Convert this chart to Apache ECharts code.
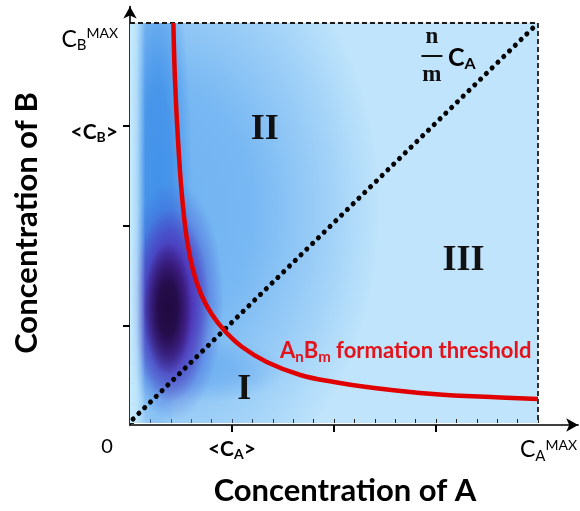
<!DOCTYPE html>
<html>
<head>
<meta charset="utf-8">
<script src="https://cdn.jsdelivr.net/npm/echarts@6.0.0/dist/echarts.min.js"></script>
<style>
html,body{margin:0;padding:0;background:#ffffff;}
#chart{width:580px;height:511px;}
</style>
</head>
<body>
<div id="chart"></div>
<script>
// ---------------- data ----------------
const xLabelValues = [0, 1, 4];
const xLabelTexts = ['0', '<C_{A}>', 'C_{A}^{MAX}'];
const xMajorTicks = [1, 2, 3];
const yLabelValues = [3, 4];
const yLabelTexts = ['<C_{B}>', 'C_{B}^{MAX}'];
const yMajorTicks = [1, 2, 3];
const xAxisTitle = 'Concentration of A';
const yAxisTitle = 'Concentration of B';

// AnBm formation threshold (red curve)
const thresholdX = [0.425, 0.441, 0.47, 0.507, 0.556, 0.62, 0.70, 0.80, 0.93, 1.10, 1.34, 1.67, 2.0, 2.32, 2.97, 3.63, 4.0];
const thresholdY = [4.0, 3.43, 2.84, 2.30, 1.85, 1.52, 1.28, 1.09, 0.92, 0.76, 0.61, 0.48, 0.41, 0.36, 0.29, 0.255, 0.24];
// stoichiometric line (n/m) C_A
const stoichX = [0.03, 4.0];
const stoichY = [0.04, 4.0];
// dashed upper / right limits
const boundaryX = [0, 4, 4];
const boundaryY = [4, 4, 0];

// density field: soft elliptical cells (centre, half-widths, intensity level)
const fieldCx = [0.39, 0.27, 0.74, 0.42, 0.40, 0.37];
const fieldCy = [2.14, 2.34, 0.53, 1.22, 1.17, 1.14];
const fieldRx = [2.06, 0.34, 0.78, 0.50, 0.38, 0.24];
const fieldRy = [2.99, 2.59, 0.32, 1.2, 0.97, 0.66];
const fieldLevel = [0, 1, 5, 2, 3, 4];
const edgeBand = [0, 0.15, 0, 4];

// annotations
const regionNames = ['I', 'II', 'III'];
const regionX = [1.12, 1.32, 3.27];
const regionY = [0.33, 2.93, 1.62];
const ratioNumerator = 'n';
const ratioDenominator = 'm';
const ratioTerm = 'C_{A}';
const ratioAt = [2.96, 3.67];
const thresholdText = 'A_{n}B_{m} formation threshold';
const thresholdTextAt = [1.47, 0.72];

// ---------------- styling ----------------
const FONT = 'Lato, "Open Sans", sans-serif';
const SERIF = '"Liberation Serif", "DejaVu Serif", serif';
const RED = '#e00000';
const fieldRGB = [[98, 170, 240], [58, 140, 232], [64, 78, 208], [82, 32, 170], [30, 8, 58], [90, 160, 238]];
const fieldAlpha = [0.85, 0.85, 0.9, 0.9, 0.95, 0.5];

function tok(size, weight, dy, color) {
  const c = color || '#000';
  return {
    fontFamily: FONT, fontSize: size, fontWeight: weight, color: c, fill: c,
    lineHeight: Math.round(size * 1.15), verticalAlign: 'middle',
    padding: dy >= 0 ? [2 * dy, 0, 0, 0] : [0, 0, -2 * dy, 0]
  };
}
const rich = {
  xbb: tok(21, 'bold', 0), xbsub: tok(14, 'bold', 5),
  xmb: tok(23, 'normal', 0), xmsub: tok(15, 'normal', 6), xmsup: tok(14, 'normal', -5),
  ybb: tok(21, 'bold', 6), ybsub: tok(14, 'bold', 11),
  ymb: tok(23, 'normal', 13), ymsub: tok(15, 'normal', 19), ymsup: tok(14, 'normal', 7),
  gap0: {width: 46}, gapM: {width: 22},
  rb: tok(25, 'bold', 0), rsub: tok(16, 'bold', 6),
  tb: tok(22, 'bold', 0, '#e3131b'), tsub: tok(15, 'bold', 6, '#e3131b')
};

function toRich(s, p) {
  const out = [];
  const re = /([_^])\{([^}]*)\}/g;
  let last = 0, m;
  while ((m = re.exec(s))) {
    if (m.index > last) out.push('{' + p + 'b|' + s.slice(last, m.index) + '}');
    out.push('{' + p + (m[1] === '_' ? 'sub' : 'sup') + '|' + m[2] + '}');
    last = re.lastIndex;
  }
  if (last < s.length) out.push('{' + p + 'b|' + s.slice(last) + '}');
  return out.join('');
}

const zip = (a, b) => a.map((v, i) => [v, b[i]]);

function renderBlob(params, api) {
  const c = api.coord([api.value(0), api.value(1)]);
  const s = api.size([api.value(2), api.value(3)]);
  const lvl = api.value(4);
  const rgb = fieldRGB[lvl], a = fieldAlpha[lvl];
  const col = al => 'rgba(' + rgb[0] + ',' + rgb[1] + ',' + rgb[2] + ',' + al + ')';
  return {
    type: 'circle', x: c[0], y: c[1], scaleX: 1, scaleY: s[1] / s[0],
    shape: {cx: 0, cy: 0, r: s[0]},
    style: {
      fill: new echarts.graphic.RadialGradient(0.5, 0.5, 0.5, [
        {offset: 0, color: col(a)},
        {offset: 0.4, color: col(a * 0.9)},
        {offset: 0.75, color: col(a * 0.4)},
        {offset: 1, color: col(0)}
      ])
    }
  };
}

function renderEdge(params, api) {
  const p0 = api.coord([api.value(0), api.value(3)]);
  const p1 = api.coord([api.value(1), api.value(2)]);
  return {
    type: 'rect',
    shape: {x: p0[0], y: p0[1], width: p1[0] - p0[0], height: p1[1] - p0[1]},
    style: {
      fill: new echarts.graphic.LinearGradient(0, 0, 1, 0, [
        {offset: 0, color: 'rgba(200,236,253,1)'},
        {offset: 0.45, color: 'rgba(200,236,253,0.75)'},
        {offset: 1, color: 'rgba(200,236,253,0)'}
      ])
    }
  };
}

const chart = echarts.init(document.getElementById('chart'), null, {renderer: 'canvas'});

const option = {
  animation: false,
  backgroundColor: '#ffffff',
  grid: [
    {left: 130, top: 23, width: 408, height: 402, show: true, backgroundColor: '#bfe4fb', borderWidth: 0},
    {left: 130, top: 2.9, width: 448.8, height: 422.1, show: false}
  ],
  xAxis: [
    {
      gridIndex: 0, type: 'value', min: 0, max: 4, interval: 0.2,
      axisLine: {show: false},
      axisTick: {show: true, inside: true, length: 4, lineStyle: {color: '#222', width: 1}},
      axisLabel: {show: false}, splitLine: {show: false},
      name: xAxisTitle, nameLocation: 'middle', nameGap: 52,
      nameTextStyle: {fontFamily: FONT, fontWeight: 'bold', fontSize: 31, color: '#000', padding: [0, 0, 0, 22]}
    },
    {
      gridIndex: 1, type: 'value', min: 0, max: 4.4, interval: 1,
      axisLine: {show: true, symbol: ['none', 'arrow'], symbolSize: [10, 12], lineStyle: {color: '#000', width: 1.6}},
      axisTick: {show: true, customValues: xMajorTicks, length: 7, lineStyle: {color: '#000', width: 2}},
      axisLabel: {
        show: true, customValues: xLabelValues, margin: 12,
        fontFamily: FONT, fontSize: 20, color: '#000',
        formatter: v => {
          const t = xLabelTexts[xLabelValues.indexOf(v)];
          if (v === 0) return t + '{gap0| }';
          if (v === 4) return '{gapM| }' + toRich(t, 'xm');
          return toRich(t, 'xb');
        },
        rich: rich
      },
      splitLine: {show: false}
    }
  ],
  yAxis: [
    {
      gridIndex: 0, type: 'value', min: 0, max: 4, interval: 0.2,
      axisLine: {show: false},
      axisTick: {show: true, inside: true, length: 4, lineStyle: {color: '#222', width: 1}},
      axisLabel: {show: false}, splitLine: {show: false},
      name: yAxisTitle, nameLocation: 'middle', nameGap: 88, nameRotate: 90,
      nameTextStyle: {fontFamily: FONT, fontWeight: 'bold', fontSize: 31, color: '#000'}
    },
    {
      gridIndex: 1, type: 'value', min: 0, max: 4.2, interval: 1,
      axisLine: {show: true, symbol: ['none', 'arrow'], symbolSize: [10, 12], lineStyle: {color: '#000', width: 1.6}},
      axisTick: {show: true, customValues: yMajorTicks, length: 7, lineStyle: {color: '#000', width: 2}},
      axisLabel: {
        show: true, customValues: yLabelValues, margin: 12,
        fontFamily: FONT, fontSize: 20, color: '#000',
        formatter: v => {
          const t = yLabelTexts[yLabelValues.indexOf(v)];
          return toRich(t, v === 4 ? 'ym' : 'yb');
        },
        rich: rich
      },
      splitLine: {show: false}
    }
  ],
  series: [
    {
      type: 'custom', name: 'field', xAxisIndex: 0, yAxisIndex: 0, clip: true, silent: true, z: 1,
      renderItem: renderBlob,
      data: fieldCx.map((x, i) => [x, fieldCy[i], fieldRx[i], fieldRy[i], fieldLevel[i]])
    },
    {
      type: 'custom', name: 'edge', xAxisIndex: 0, yAxisIndex: 0, clip: true, silent: true, z: 2,
      renderItem: renderEdge,
      data: [edgeBand]
    },
    {
      type: 'line', name: 'limits', xAxisIndex: 0, yAxisIndex: 0, clip: false, silent: true, z: 3,
      symbol: 'none', data: zip(boundaryX, boundaryY),
      lineStyle: {color: '#1a1a1a', width: 1.8, type: [5, 3]}
    },
    {
      type: 'line', name: 'stoichiometry', xAxisIndex: 0, yAxisIndex: 0, silent: true, z: 4,
      symbol: 'none', data: zip(stoichX, stoichY),
      lineStyle: {color: '#000', width: 5, type: [0.1, 8], cap: 'round'}
    },
    {
      type: 'line', name: 'threshold', xAxisIndex: 0, yAxisIndex: 0, silent: true, z: 5,
      symbol: 'none', smooth: 0.4, data: zip(thresholdX, thresholdY),
      lineStyle: {color: RED, width: 4.5, join: 'round'}
    },
    {
      type: 'custom', name: 'regions', xAxisIndex: 0, yAxisIndex: 0, clip: false, silent: true, z: 6,
      data: zip(regionX, regionY),
      renderItem: (params, api) => {
        const p = api.coord([api.value(0), api.value(1)]);
        return {
          type: 'text', x: p[0], y: p[1],
          style: {text: regionNames[params.dataIndex], fontFamily: SERIF, fontWeight: 'bold', fontSize: 36,
            fill: '#111', align: 'center', verticalAlign: 'middle'}
        };
      }
    },
    {
      type: 'custom', name: 'ratio', xAxisIndex: 0, yAxisIndex: 0, clip: false, silent: true, z: 6,
      data: [ratioAt],
      renderItem: (params, api) => {
        const p = api.coord([api.value(0), api.value(1)]);
        const fr = {fontFamily: SERIF, fontWeight: 'bold', fontSize: 23, fill: '#111', align: 'center', verticalAlign: 'middle'};
        return {
          type: 'group', x: p[0], y: p[1],
          children: [
            {type: 'text', x: 0, y: -19, style: Object.assign({text: ratioNumerator}, fr)},
            {type: 'rect', shape: {x: -10.5, y: -1, width: 21, height: 2}, style: {fill: '#111'}},
            {type: 'text', x: 0, y: 19, style: Object.assign({text: ratioDenominator}, fr)},
            {type: 'text', x: 16, y: 2, style: {text: toRich(ratioTerm, 'r'), rich: rich, align: 'left', verticalAlign: 'middle'}}
          ]
        };
      }
    },
    {
      type: 'custom', name: 'thresholdLabel', xAxisIndex: 0, yAxisIndex: 0, clip: false, silent: true, z: 6,
      data: [thresholdTextAt],
      renderItem: (params, api) => {
        const p = api.coord([api.value(0), api.value(1)]);
        return {
          type: 'text', x: p[0], y: p[1],
          style: {text: toRich(thresholdText, 't'), rich: rich, align: 'left', verticalAlign: 'middle'}
        };
      }
    }
  ]
};
chart.setOption(option);
</script>
</body>
</html>
